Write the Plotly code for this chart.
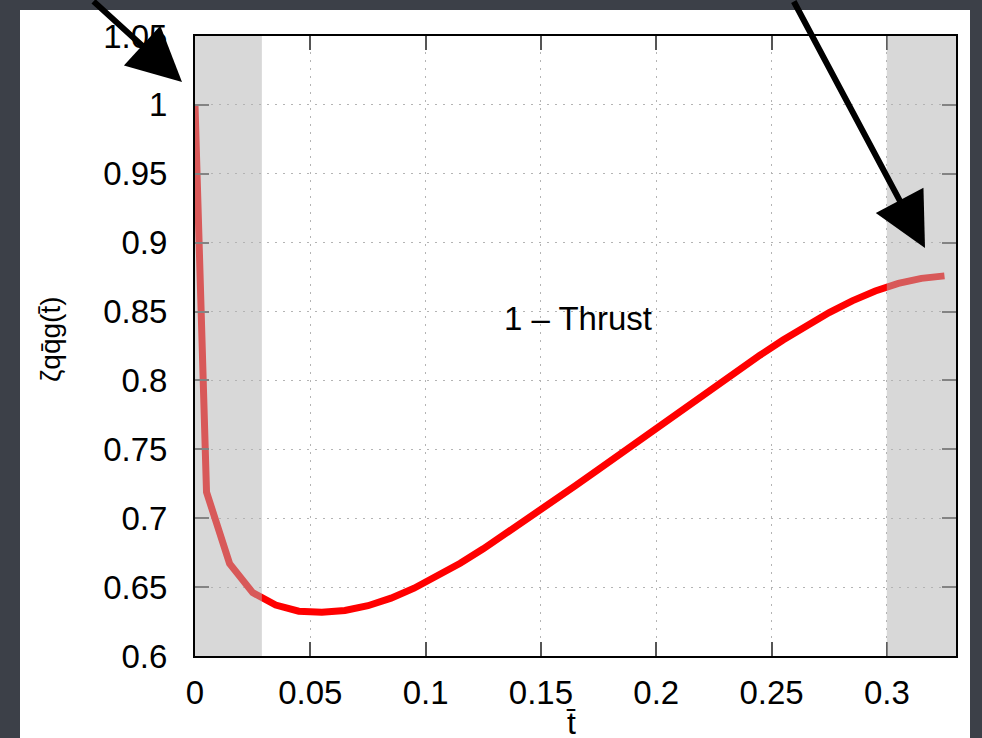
import plotly.graph_objects as go

# ---- data ----
t_bar = [0.0, 0.005, 0.015, 0.025, 0.035, 0.045, 0.055, 0.065, 0.075, 0.085,
         0.095, 0.105, 0.115, 0.125, 0.135, 0.145, 0.155, 0.165, 0.175, 0.185,
         0.195, 0.205, 0.215, 0.225, 0.235, 0.245, 0.255, 0.265, 0.275, 0.285,
         0.295, 0.305, 0.315, 0.325]
zeta = [1.0, 0.719, 0.667, 0.646, 0.637, 0.6325, 0.6318, 0.6330, 0.6365, 0.6420,
        0.6492, 0.6577, 0.6673, 0.6778, 0.6889, 0.7003, 0.7119, 0.7236, 0.7354, 0.7473,
        0.7593, 0.7713, 0.7833, 0.7952, 0.8069, 0.8183, 0.8293, 0.8397, 0.8493, 0.8578,
        0.8649, 0.8704, 0.8741, 0.8759]
x_ticks = [0, 0.05, 0.1, 0.15, 0.2, 0.25, 0.3]
x_ticklabels = ["0", "0.05", "0.1", "0.15", "0.2", "0.25", "0.3"]
y_ticks = [0.6, 0.65, 0.7, 0.75, 0.8, 0.85, 0.9, 0.95, 1.0, 1.05]
y_ticklabels = ["0.6", "0.65", "0.7", "0.75", "0.8", "0.85", "0.9", "0.95", "1", "1.05"]
shade_regions = [(0.0, 0.029), (0.3, 0.34)]
label_text = "1 \u2013 Thrust"

# ---- layout geometry ----
W, H = 982, 738
ML, MR, MT, MB = 195, 26, 36, 82
PW, PH = W - ML - MR, H - MT - MB


def px_x(x):
    return (x - ML) / PW


def px_y(y):
    return (H - MB - y) / PH


FONT = "Liberation Sans, Arial, Helvetica, sans-serif"

fig = go.Figure()
fig.add_trace(go.Scatter(x=t_bar, y=zeta, mode="lines",
                         line=dict(color="#ff0000", width=7),
                         showlegend=False, hoverinfo="skip"))

shapes = [dict(type="rect", xref="paper", yref="paper",
               x0=px_x(20), x1=px_x(970), y0=px_y(738), y1=px_y(10),
               fillcolor="white", line=dict(width=0), layer="below")]
for a, b in shade_regions:
    shapes.append(dict(type="rect", xref="x", yref="paper", x0=a, x1=b, y0=0, y1=1,
                       fillcolor="rgb(178,178,178)", opacity=0.5,
                       line=dict(width=0), layer="above"))

axis_common = dict(showline=True, linecolor="black", linewidth=2, mirror="ticks",
                   ticks="inside", ticklen=14, tickwidth=2, tickcolor="#555555",
                   showgrid=True, gridcolor="#b4b4b4", griddash="2px,6px", gridwidth=1.2,
                   zeroline=False, tickfont=dict(family=FONT, size=33, color="black"))

fig.update_layout(
    width=W, height=H,
    margin=dict(l=ML, r=MR, t=MT, b=MB),
    paper_bgcolor="#3c4048",
    plot_bgcolor="rgba(0,0,0,0)",
    shapes=shapes,
    xaxis=dict(range=[0, 0.33], tickvals=x_ticks, ticktext=x_ticklabels,
               ticklabelstandoff=6, **axis_common),
    yaxis=dict(range=[0.6, 1.05], tickvals=y_ticks, ticktext=y_ticklabels,
               ticklabelstandoff=19, **axis_common),
    annotations=[
        dict(x=0.166, y=0.845, xref="x", yref="y", text=label_text, showarrow=False,
             font=dict(family=FONT, size=33, color="black")),
        dict(x=px_x(571), y=px_y(703), xref="paper", yref="paper", text="t\u0304",
             showarrow=False, xanchor="center", yanchor="top",
             font=dict(family=FONT, size=32, color="black")),
        dict(x=px_x(50), y=px_y(339), xref="paper", yref="paper",
             text="\u03b6qq\u0304g(t\u0304)", textangle=-90, showarrow=False,
             xanchor="center", yanchor="middle",
             font=dict(family=FONT, size=28, color="black")),
        dict(x=px_x(182), y=px_y(82), xref="paper", yref="paper", text="",
             showarrow=True, ax=-90, ay=-90, arrowhead=2, arrowsize=1.8,
             arrowwidth=6, arrowcolor="black"),
        dict(x=px_x(925), y=px_y(248), xref="paper", yref="paper", text="",
             showarrow=True, ax=-132, ay=-258, arrowhead=2, arrowsize=1.8,
             arrowwidth=6, arrowcolor="black"),
    ],
)

fig.write_html("out.html")
